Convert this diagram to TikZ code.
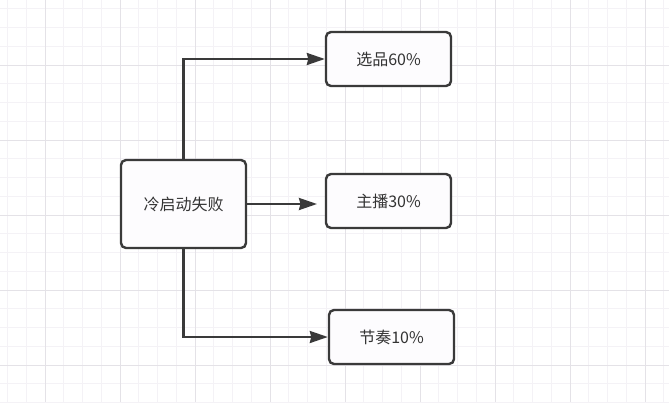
\documentclass[tikz,border=0pt]{standalone}
\usepackage{fontspec}
\newfontfamily\cjk{Noto Sans CJK SC}
\usetikzlibrary{arrows.meta}

\begin{document}
\begin{tikzpicture}[
    x=1pt, y=-1pt,
    text=mytext,
    >={Stealth[length=18pt, width=12pt, inset=1.5pt]},
    box/.style={draw=myline, fill=myfill, line width=2.4pt, rounded corners=5pt,
        minimum width=125pt, inner sep=0pt, font=\cjk\fontsize{16}{19}\selectfont},
    arrowline/.style={->, draw=myline, line width=2.4pt},
    minorgrid/.style={draw=mygrid, line width=0.8pt},
    majorgrid/.style={draw=mygridmajor, line width=0.8pt}
]

% Define custom colors to match the image closely
\definecolor{mytext}{HTML}{333333}
\definecolor{myline}{HTML}{3A3A3A}
\definecolor{myfill}{HTML}{FDFCFE}
\definecolor{mygrid}{HTML}{F4F2F6}
\definecolor{mygridmajor}{HTML}{E4E2E7}

% ==================== BACKGROUND ====================
\fill[white] (0,0) rectangle (669,402);
\useasboundingbox (0,0) rectangle (669,402);
\foreach \i in {0,...,35} {
    \draw[minorgrid] (7.5+18.75*\i, 0) -- (7.5+18.75*\i, 402);
    \draw[minorgrid] (0, 8.75+18.75*\i) -- (669, 8.75+18.75*\i);
}
\foreach \i in {0,...,8} {
    \draw[majorgrid] (45+75*\i, 0) -- (45+75*\i, 402);
    \draw[majorgrid] (0, 65+75*\i) -- (669, 65+75*\i);
}

% ==================== NODES ====================
\node[box, minimum height=88pt] (fail) at (183.5, 204) {冷启动失败};
\node[box, minimum height=54pt] (pick) at (388.5, 59) {选品60\%};
\node[box, minimum height=54pt] (host) at (388.5, 201) {主播30\%};
\node[box, minimum height=54pt] (pace) at (391.5, 337) {节奏10\%};

% free end of the middle arrow
\coordinate (hostend) at (317, 204);

% Arrows
\draw[arrowline] (fail.north) |- (pick.west);
\draw[arrowline] (fail.east) -- (hostend);
\draw[arrowline] (fail.south) |- (pace.west);

\end{tikzpicture}
\end{document}
